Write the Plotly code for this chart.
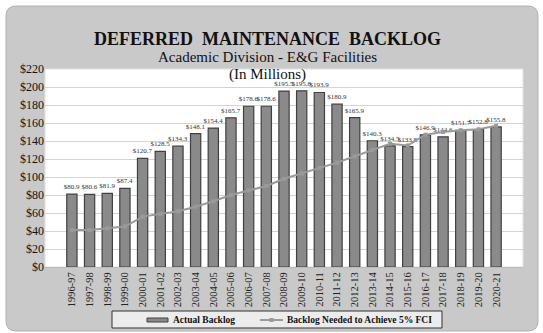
import plotly.graph_objects as go

years = ["1996-97","1997-98","1998-99","1999-00","2000-01","2001-02","2002-03","2003-04",
         "2004-05","2005-06","2006-07","2007-08","2008-09","2009-10","2010-11","2011-12",
         "2012-13","2013-14","2014-15","2015-16","2016-17","2017-18","2018-19","2019-20","2020-21"]
actual = [80.9, 80.6, 81.9, 87.4, 120.7, 128.5, 134.3, 148.1, 154.4, 165.7, 178.6, 178.6,
          195.5, 195.8, 193.9, 180.9, 165.9, 140.3, 134.5, 133.8, 146.9, 144.6, 151.7, 152.8, 155.8]
needed = [41, 41, 43, 45, 56, 59, 62, 67, 73, 80, 85, 90, 98, 104, 110, 116, 123, 130,
          137, 135, 147, 150, 152, 153, 157]
y_ticks = list(range(0, 221, 20))
y_tick_labels = ["$" + str(v) for v in y_ticks]
series_names = ["Actual Backlog", "Backlog Needed to Achieve 5% FCI"]

W, H = 543, 333
L, R, T, B = 45, 20, 69, 66
pw, ph = W - L - R, H - T - B

def px(x):
    return (x - L) / pw

def py(y):
    return (H - B - y) / ph

serif = "Times New Roman, Liberation Serif, serif"
bar_color, bar_edge = "#8a8a8a", "#404040"
line_color = "#9a9a9a"

fig = go.Figure()
fig.add_trace(go.Bar(
    x=years, y=actual, name=series_names[0],
    marker=dict(color=bar_color, line=dict(color=bar_edge, width=1.2)),
    text=["$" + f"{v:.1f}" for v in actual], textposition="outside",
    constraintext="none",
    textfont=dict(family=serif, size=7, color="#333333"),
    cliponaxis=False,
))
fig.add_trace(go.Scatter(
    x=years, y=needed, name=series_names[1],
    mode="lines+markers",
    line=dict(color=line_color, width=2),
    marker=dict(symbol="square", size=4, color=line_color),
))

# rounded gray background
x0, x1, y0, y1, r = px(6), px(538), py(331), py(6), 10
rx, ry = r / pw, r / ph
path = (f"M {x0+rx},{y0} L {x1-rx},{y0} Q {x1},{y0} {x1},{y0+ry} "
        f"L {x1},{y1-ry} Q {x1},{y1} {x1-rx},{y1} L {x0+rx},{y1} Q {x0},{y1} {x0},{y1-ry} "
        f"L {x0},{y0+ry} Q {x0},{y0} {x0+rx},{y0} Z")
fig.add_shape(type="path", path=path, xref="paper", yref="paper",
              fillcolor="#c9c9c9", line=dict(color="#b0b0b0", width=1), layer="below")
fig.add_shape(type="rect", xref="paper", yref="paper", x0=0, x1=1, y0=0, y1=1,
              fillcolor="white", line=dict(color="#e0e0e0", width=1), layer="below")

# manual legend
fig.add_shape(type="rect", xref="paper", yref="paper", x0=px(112), x1=px(442),
              y0=py(328), y1=py(311), fillcolor="#ececec", line=dict(color="#333333", width=1))
fig.add_shape(type="rect", xref="paper", yref="paper", x0=px(147), x1=px(168),
              y0=py(322), y1=py(318), fillcolor=bar_color, line=dict(color=bar_edge, width=1))
fig.add_shape(type="line", xref="paper", yref="paper", x0=px(260), x1=px(283),
              y0=py(320), y1=py(320), line=dict(color=line_color, width=2))
fig.add_shape(type="rect", xref="paper", yref="paper", x0=px(269.5), x1=px(273.5),
              y0=py(322), y1=py(318), fillcolor=line_color, line=dict(color=line_color, width=0))
fig.add_annotation(text="<b>" + series_names[0] + "</b>", xref="paper", yref="paper",
                   x=px(171), y=py(320), xanchor="left", yanchor="middle", showarrow=False,
                   font=dict(family=serif, size=9.5, color="#111111"))
fig.add_annotation(text="<b>" + series_names[1] + "</b>", xref="paper", yref="paper",
                   x=px(285), y=py(320), xanchor="left", yanchor="middle", showarrow=False,
                   font=dict(family=serif, size=9.5, color="#111111"))

fig.add_annotation(text="<b>DEFERRED  MAINTENANCE  BACKLOG</b>", xref="paper", yref="paper",
                   x=px(267), y=py(27), showarrow=False,
                   font=dict(family=serif, size=18, color="#111111"))
fig.add_annotation(text="Academic Division - E&G Facilities", xref="paper", yref="paper",
                   x=px(267), y=py(47), showarrow=False,
                   font=dict(family=serif, size=15, color="#111111"))
fig.add_annotation(text="(In Millions)", xref="paper", yref="paper",
                   x=px(267), y=py(64), showarrow=False,
                   font=dict(family=serif, size=15, color="#111111"))

fig.update_layout(
    width=W, height=H,
    margin=dict(l=L, r=R, t=T, b=B, autoexpand=False),
    paper_bgcolor="white", plot_bgcolor="rgba(0,0,0,0)",
    bargap=0.42,
    showlegend=False,
    xaxis=dict(type="category", tickangle=-90,
               tickfont=dict(family=serif, size=10.5, color="#222222"),
               showgrid=False, linecolor="#bbbbbb", ticks="", automargin=False),
    yaxis=dict(range=[0, 220], tickvals=y_ticks, ticktext=y_tick_labels,
               tickfont=dict(family=serif, size=12, color="#111111"),
               gridcolor="#d4d4d4", gridwidth=1, zeroline=False, ticks="", automargin=False),
)

fig.write_html("out.html")
